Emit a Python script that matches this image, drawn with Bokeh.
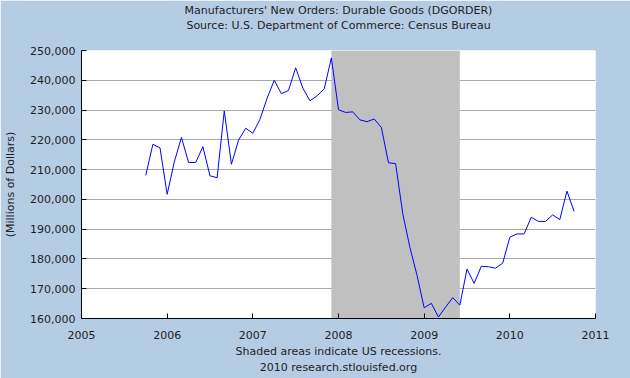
from bokeh.plotting import figure
from bokeh.models import (Title, FixedTicker, NumeralTickFormatter, BoxAnnotation,
                          ColumnDataSource, Range1d)
from bokeh.embed import file_html
from bokeh.resources import INLINE

# ---- data (millions of dollars), monthly Oct 2005 .. Oct 2010 ----
start_year = 2005
start_month = 10
orders = [
    208100, 218500, 217300,
    201700, 212600, 220800, 212400, 212400, 217700, 207900, 207300, 229700, 211800, 219900, 223900,
    222200, 226900, 234000, 240000, 235500, 236600, 244200, 237400, 233100, 234800, 237100, 247500,
    230100, 229200, 229400, 226700, 226100, 227000, 224200, 212300, 212000, 195200, 183900, 174500,
    163600, 165100, 160500, 163800, 167000, 164500, 176600, 171800, 177500, 177400, 176900, 178600,
    187300, 188400, 188400, 194000, 192600, 192600, 194800, 193200, 202800, 196000,
]
recession_start = [2007 + 11 / 12]   # Dec 2007
recession_end = [2009 + 5 / 12]      # Jun 2009
year_ticks = [2005, 2006, 2007, 2008, 2009, 2010, 2011]
value_ticks = [160000, 170000, 180000, 190000, 200000, 210000, 220000, 230000, 240000, 250000]

dates = [start_year + (start_month - 1 + i) / 12 for i in range(len(orders))]

FONT = "DejaVu Sans"
BG = "#B4CDE5"
TXT = "#1E1E1E"

p = figure(width=630, height=378, output_backend="svg", toolbar_location=None,
           x_range=Range1d(year_ticks[0], year_ticks[-1]),
           y_range=Range1d(value_ticks[0], value_ticks[-1]),
           min_border_left=81, min_border_right=35, min_border_top=50, min_border_bottom=60,
           background_fill_color="white", border_fill_color=BG, outline_line_color=None)
p.title.visible = False

# recession shading
p.quad(left=recession_start, right=recession_end,
       top=[value_ticks[-1]], bottom=[value_ticks[0]],
       fill_color="#C0C0C0", line_color=None)

src = ColumnDataSource(dict(x=dates, y=orders))
p.line("x", "y", source=src, line_color="#0000FF", line_width=1)

# axes
p.xaxis.ticker = FixedTicker(ticks=year_ticks)
p.yaxis.ticker = FixedTicker(ticks=value_ticks)
p.yaxis.formatter = NumeralTickFormatter(format="0,0")
for ax in (p.xaxis[0], p.yaxis[0]):
    ax.axis_line_color = "black"
    ax.major_tick_line_color = "black"
    ax.major_tick_in = 5
    ax.major_tick_out = 0
    ax.minor_tick_line_color = None
    ax.major_label_text_font = FONT
    ax.major_label_text_font_size = "11px"
    ax.major_label_text_color = TXT
p.xaxis.major_label_standoff = 12
p.yaxis.major_label_standoff = 6
p.yaxis.axis_label = "(Millions of Dollars)"
p.yaxis.axis_label_text_font = FONT
p.yaxis.axis_label_text_font_size = "11px"
p.yaxis.axis_label_text_font_style = "normal"
p.yaxis.axis_label_text_color = TXT
p.yaxis.axis_label_standoff = 10

p.xgrid.grid_line_color = None
p.ygrid.grid_line_color = "#A8A8A8"
p.ygrid.grid_line_width = 1

def make_title(text, standoff):
    return Title(text=text, align="center", text_font=FONT, text_font_size="11px",
                 text_font_style="normal", text_color=TXT, standoff=standoff)

# titles (later-added is farther from the plot); first one is a blank spacer
p.add_layout(make_title(" ", 4), "above")
p.add_layout(make_title("Source: U.S. Department of Commerce: Census Bureau", 0), "above")
p.add_layout(make_title("Manufacturers' New Orders: Durable Goods (DGORDER)", 0), "above")
p.add_layout(make_title("Shaded areas indicate US recessions.", 2), "below")
p.add_layout(make_title("2010 research.stlouisfed.org", 0), "below")

# outer border
p.add_layout(BoxAnnotation(left=0.5, right=629.5, top=0.5, bottom=377.5,
                           left_units="canvas", right_units="canvas",
                           top_units="canvas", bottom_units="canvas",
                           fill_color=None, line_color="black", line_width=1))

open("out.html", "w").write(file_html(p, INLINE))
